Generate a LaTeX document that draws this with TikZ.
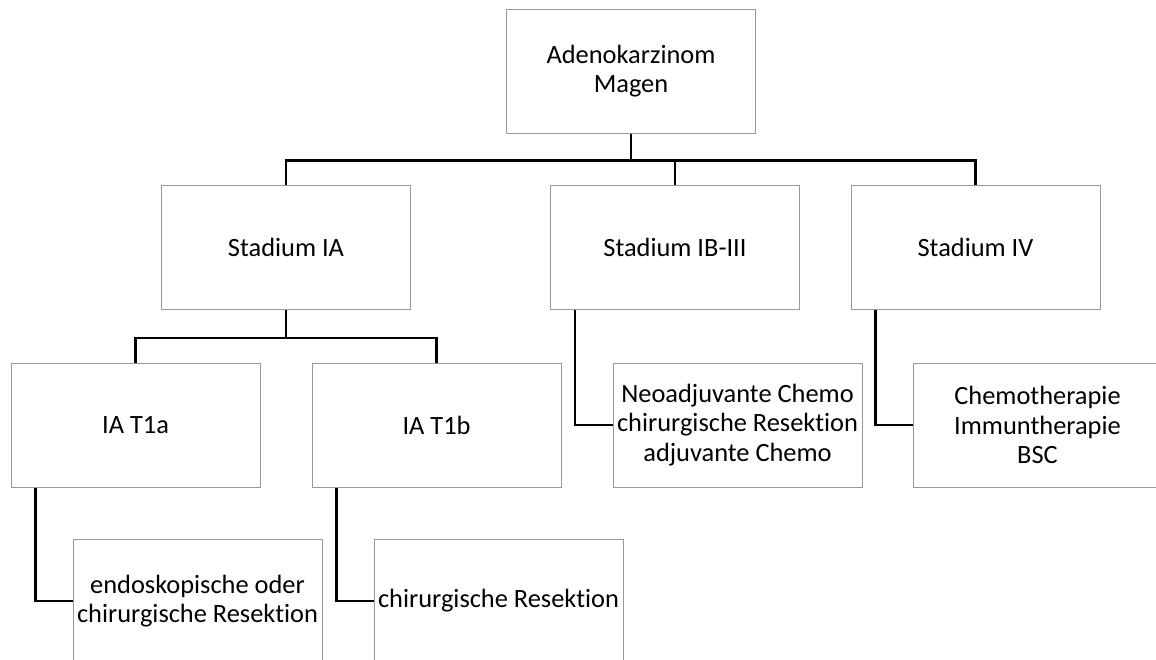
\documentclass[tikz,border=0pt]{standalone}
\usepackage{fontspec}
\setmainfont[Ligatures=NoCommon]{Carlito}
\usepackage{tikz}
\tikzstyle{box}=[rectangle, draw=black!40, line width=1pt, minimum width=249pt, minimum height=124pt, inner sep=0pt, align=center, font=\fontsize{26.4}{29.5}\selectfont]
\tikzstyle{link}=[draw=black, line width=2.4pt]

\begin{document}
\begin{tikzpicture}[x=1pt, y=-1pt]
		   \useasboundingbox (0,0) rectangle (1156,659);
		   \begin{scope}
			   \node (0) at (631, 71)[box] {Adenokarzinom\\Magen};
			   \node (1) at (286, 247.5)[box] {Stadium IA};
			   \node (2) at (675, 247.5)[box] {Stadium IB-III};
			   \node (3) at (975.5, 247.5)[box] {Stadium IV};
			   \node (4) at (135.5, 425)[box] {IA T1a};
			   \node (5) at (436.5, 425)[box] {IA T1b};
			   \node (6) at (737.5, 425)[box] {Neoadjuvante Chemo\\chirurgische Resektion\\adjuvante Chemo};
			   \node (7) at (1037.5, 425)[box] {Chemotherapie\\Immuntherapie\\BSC};
			   \node (8) at (197.5, 601)[box] {endoskopische oder\\chirurgische Resektion};
			   \node (9) at (498.5, 601)[box] {chirurgische Resektion};
		   \end{scope}
		   \begin{scope}
			   \path [link] (0.south) -- ++(0,27) -| (1.north);
			   \path [link] (0.south) -- ++(0,27) -| (2.north);
			   \path [link] (0.south) -- ++(0,27) -| (3.north);
			   \path [link] (1.south) -- ++(0,28) -| (4.north);
			   \path [link] (1.south) -- ++(0,28) -| (5.north);
			   \path [link] ([xshift=25pt]2.south west) |- (6.west);
			   \path [link] ([xshift=25pt]3.south west) |- (7.west);
			   \path [link] ([xshift=25pt]4.south west) |- (8.west);
			   \path [link] ([xshift=25pt]5.south west) |- (9.west);
		   \end{scope}
	   \end{tikzpicture}
\end{document}
